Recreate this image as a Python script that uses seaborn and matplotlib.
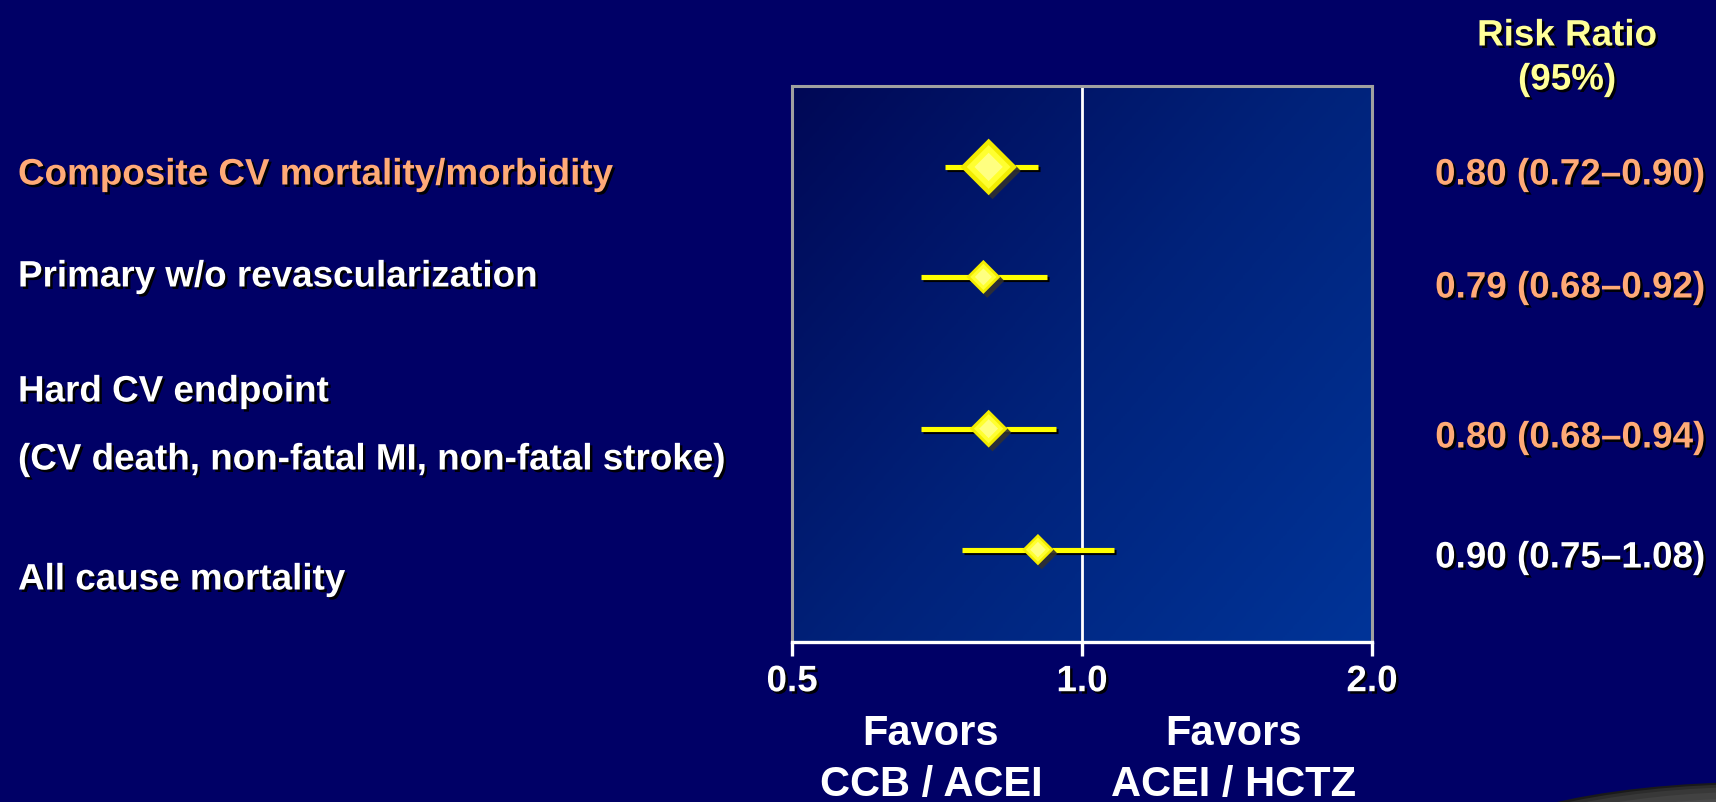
import numpy as np
import pandas as pd
import matplotlib
matplotlib.use("Agg")
import matplotlib.pyplot as plt
import matplotlib.patheffects as pe
from matplotlib.patches import Ellipse
from matplotlib.colors import LinearSegmentedColormap
import seaborn as sns

# ---------------- data ----------------
outcome_lines = [
    "Composite CV mortality/morbidity",
    "Primary w/o revascularization",
    "Hard CV endpoint",
    "(CV death, non-fatal MI, non-fatal stroke)",
    "All cause mortality",
]
risk_ratio = [0.80, 0.79, 0.80, 0.90]
ci_low = [0.72, 0.68, 0.68, 0.75]
ci_high = [0.90, 0.92, 0.94, 1.08]
rr_text = ["0.80 (0.72\u20130.90)", "0.79 (0.68\u20130.92)",
           "0.80 (0.68\u20130.94)", "0.90 (0.75\u20131.08)"]
x_ticks = [0.5, 1.0, 2.0]
x_tick_labels = ["0.5", "1.0", "2.0"]
header_lines = ["Risk Ratio", "(95%)"]
favors_left = ["Favors", "CCB / ACEI"]
favors_right = ["Favors", "ACEI / HCTZ"]

# ---------------- layout / style ----------------
W, H = 1716, 802
BG = "#000066"
ORANGE = "#FFAA77"
HEADER = "#FFFF99"
FONT = "Liberation Sans"
row_pos = [0.0, 1.0, 2.38, 3.48]
marker_s = [830, 300, 370, 255]
outcome_colors = [ORANGE, "white", "white", "white", "white"]
outcome_y = [175, 277, 392, 460, 580]
rr_colors = [ORANGE, ORANGE, ORANGE, "white"]
rr_y = [175, 288, 438, 558]
header_y = [36, 80]
favors_y = [734, 785]

df = pd.DataFrame({"rr": risk_ratio, "lo": ci_low, "hi": ci_high,
                   "pos": row_pos, "s": marker_s})

plt.rcParams["font.family"] = [FONT, "DejaVu Sans"]
plt.rcParams["font.weight"] = "bold"

fig = plt.figure(figsize=(W / 100, H / 100), dpi=100, facecolor=BG)

def fx(x):
    return x / W

def fy(y):
    return 1 - y / H

ax_rect = [fx(792), fy(642), fx(1372) - fx(792), fy(86) - fy(642)]

# gradient background behind the plot area
bg_ax = fig.add_axes(ax_rect, zorder=0)
xx, yy = np.meshgrid(np.linspace(0, 1, 300), np.linspace(0, 1, 300))
t = (xx * 0.55 + yy * 0.45)
cmap = LinearSegmentedColormap.from_list(
    "bluegrad", [(0.0, (0 / 255, 8 / 255, 86 / 255)),
                 (0.5, (0 / 255, 34 / 255, 122 / 255)),
                 (1.0, (0 / 255, 52 / 255, 152 / 255))])
bg_ax.imshow(t, cmap=cmap, aspect="auto", origin="upper", extent=(0, 1, 0, 1))
bg_ax.set_axis_off()

ax = fig.add_axes(ax_rect, zorder=1)
ax.set_facecolor("none")
ax.set_xscale("log", base=2)

# reference line at 1.0
ax.axvline(1.0, color="white", lw=2.0, zorder=2)

# confidence intervals
ax.hlines(df["pos"], df["lo"], df["hi"], colors="#FFFF00", lw=3.7, zorder=3,
          path_effects=[pe.SimpleLineShadow(offset=(1.6, -1.6), shadow_color="black", alpha=1.0),
                        pe.Normal()])

# diamonds (layered for a glossy look)
sns.scatterplot(data=df, x="rr", y="pos", ax=ax, marker="D", s=df["s"].tolist(),
                color="#F2EC00", edgecolor="none", linewidth=0, zorder=4, legend=False,
                path_effects=[pe.withSimplePatchShadow(offset=(2.8, -2.8),
                                                       shadow_rgbFace="#303030", alpha=0.9)])
sns.scatterplot(data=df, x="rr", y="pos", ax=ax, marker="D",
                s=(df["s"] * 0.6).tolist(), color="#FFFF30", edgecolor="none",
                linewidth=0, zorder=5, legend=False)
sns.scatterplot(data=df, x="rr", y="pos", ax=ax, marker="D",
                s=(df["s"] * 0.25).tolist(), color="#FFFF80", edgecolor="none",
                linewidth=0, zorder=6, legend=False)

ax.set_xlim(0.5, 2.0)
ax.set_ylim(4.32, -0.736)
ax.set_xlabel("")
ax.set_ylabel("")
ax.set_xticks(x_ticks)
ax.set_xticklabels(x_tick_labels)
ax.minorticks_off()
ax.set_yticks([])
ax.tick_params(axis="x", which="both", direction="out", length=10, width=2.4,
               color="white", labelcolor="white", labelsize=26.5, pad=6)
shadow = [pe.withSimplePatchShadow(offset=(1.8, -1.8), shadow_rgbFace="black", alpha=0.95)]
for lab in ax.get_xticklabels():
    lab.set_fontweight("bold")
    lab.set_path_effects(shadow)
for side in ["top", "left", "right"]:
    ax.spines[side].set_color("#A0A0A0")
    ax.spines[side].set_linewidth(2.2)
ax.spines["bottom"].set_color("white")
ax.spines["bottom"].set_linewidth(2.4)

# outcome labels
for txt, col, y in zip(outcome_lines, outcome_colors, outcome_y):
    fig.text(fx(18), fy(y), txt, color=col, fontsize=26.5, fontweight="bold",
             ha="left", va="center", path_effects=shadow)

# risk ratio labels
for txt, col, y in zip(rr_text, rr_colors, rr_y):
    fig.text(fx(1705), fy(y), txt, color=col, fontsize=26.5, fontweight="bold",
             ha="right", va="center", path_effects=shadow)

# header
for txt, y in zip(header_lines, header_y):
    fig.text(fx(1567), fy(y), txt, color=HEADER, fontsize=26.5, fontweight="bold",
             ha="center", va="center", path_effects=shadow)

# favors labels
for lines, x in [(favors_left, 931), (favors_right, 1234)]:
    for txt, y in zip(lines, favors_y):
        fig.text(fx(x), fy(y), txt, color="white", fontsize=30, fontweight="bold",
                 ha="center", va="center")

# decorative dark bowl in the bottom-right corner
for scale, col in [(1.0, "#1a1a1a"), (0.975, "#2c2c2c"), (0.94, "#383838"),
                   (0.88, "#424242"), (0.8, "#4a4a4a")]:
    e = Ellipse((fx(1760), fy(862)), 2 * 307 / W * scale, 2 * 80 / H * scale,
                transform=fig.transFigure, facecolor=col, edgecolor="none", zorder=3)
    fig.add_artist(e)

fig.savefig("out.png", dpi=100, facecolor=BG)
